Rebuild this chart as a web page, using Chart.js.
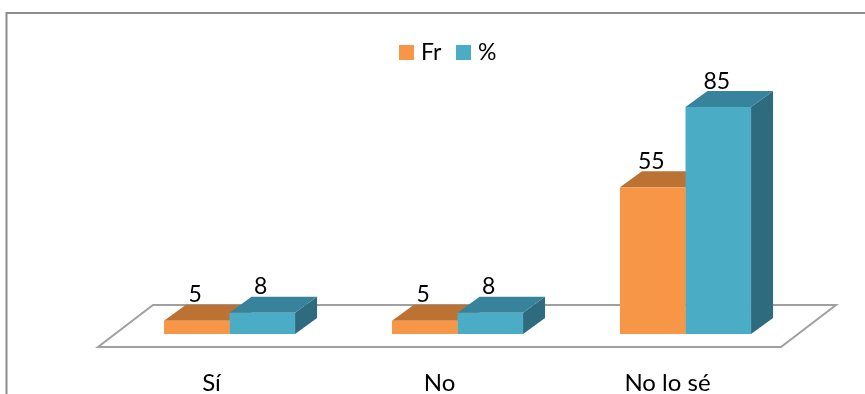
<!DOCTYPE html>
<html>
<head>
<meta charset="utf-8">
<title>Fr y %</title>
<script src="https://cdn.jsdelivr.net/npm/chart.js@4/dist/chart.umd.min.js"></script>
<style>
    html, body { margin: 0; padding: 0; background: #fff; overflow: hidden; }
    #wrap { position: relative; width: 865px; height: 394px; }
</style>
</head>
<body>
<div id="wrap"><canvas id="chart"></canvas></div>
<script>
const categories = ['Sí', 'No', 'No lo sé'];
const frValues = [5, 5, 55];
const pctValues = [8, 8, 85];

const FONT = 'Lato, sans-serif';
const DEPTH_X = 22;
const DEPTH_Y = 16;

// Grey frame round the chart, open at the bottom like the original
const framePlugin = {
    id: 'frame',
    beforeDraw(chart) {
        const ctx = chart.ctx;
        ctx.save();
        ctx.strokeStyle = '#8c8c8c';
        ctx.lineWidth = 2;
        ctx.beginPath();
        ctx.moveTo(6.5, 394);
        ctx.lineTo(6.5, 13);
        ctx.lineTo(chart.width, 13);
        ctx.stroke();
        ctx.restore();
    }
};

// Floor under the bars
const floorPlugin = {
    id: 'floor',
    beforeDatasetsDraw(chart) {
        const ctx = chart.ctx;
        const area = chart.chartArea;
        const base = chart.scales.y.getPixelForValue(0);
        ctx.save();
        ctx.strokeStyle = '#a0a0a0';
        ctx.lineWidth = 2;
        ctx.beginPath();
        ctx.moveTo(area.left - 17.5, base + 13);
        ctx.lineTo(area.right - 18.5, base + 13);
        ctx.lineTo(area.right + 36.5, base - 29);
        ctx.lineTo(area.left + 37.5, base - 29);
        ctx.closePath();
        ctx.stroke();
        ctx.restore();
    }
};

// Top and side faces, so the flat bars look like the 3D ones
const depthPlugin = {
    id: 'depth',
    beforeDatasetsDraw(chart) {
        const ctx = chart.ctx;
        const tops = ['#bb7233', '#36839b'];
        const sides = ['#bb7233', '#2f6b7e'];
        for (let i = 0; i < categories.length; i++) {
            chart.data.datasets.forEach((ds, d) => {
                const bar = chart.getDatasetMeta(d).data[i];
                const half = bar.width / 2;
                const left = bar.x - half;
                const right = bar.x + half;
                ctx.fillStyle = sides[d];
                ctx.beginPath();
                ctx.moveTo(right, bar.y);
                ctx.lineTo(right + DEPTH_X, bar.y - DEPTH_Y);
                ctx.lineTo(right + DEPTH_X, bar.base - DEPTH_Y);
                ctx.lineTo(right, bar.base);
                ctx.closePath();
                ctx.fill();
                ctx.fillStyle = tops[d];
                ctx.beginPath();
                ctx.moveTo(left, bar.y);
                ctx.lineTo(left + DEPTH_X, bar.y - DEPTH_Y);
                ctx.lineTo(right + DEPTH_X, bar.y - DEPTH_Y);
                ctx.lineTo(right, bar.y);
                ctx.closePath();
                ctx.fill();
            });
        }
    }
};

// Value labels over each bar
const valueLabelPlugin = {
    id: 'valueLabels',
    afterDatasetsDraw(chart) {
        const ctx = chart.ctx;
        ctx.save();
        ctx.font = '23px ' + FONT;
        ctx.fillStyle = '#000';
        ctx.textAlign = 'center';
        ctx.textBaseline = 'alphabetic';
        chart.data.datasets.forEach((ds, d) => {
            chart.getDatasetMeta(d).data.forEach((bar, i) => {
                ctx.fillText(ds.data[i], bar.x - 1.5, bar.y - 18.5);
            });
        });
        ctx.restore();
    }
};

// Legend drawn by hand, the built-in one leaves too wide a gap after the box
const legendPlugin = {
    id: 'topLegend',
    afterDraw(chart) {
        const ctx = chart.ctx;
        const starts = [399, 456];
        ctx.save();
        ctx.font = '23px ' + FONT;
        ctx.textBaseline = 'alphabetic';
        chart.data.datasets.forEach((ds, d) => {
            ctx.fillStyle = ds.backgroundColor;
            ctx.fillRect(starts[d], 45, 15, 15);
            ctx.fillStyle = '#000';
            ctx.fillText(ds.label, starts[d] + 22, 60);
        });
        ctx.restore();
    }
};

new Chart(document.getElementById('chart'), {
    type: 'bar',
    data: {
        labels: categories,
        datasets: [
            { label: 'Fr', data: frValues, backgroundColor: '#f79646' },
            { label: '%', data: pctValues, backgroundColor: '#4bacc6' }
        ]
    },
    options: {
        responsive: true,
        maintainAspectRatio: false,
        animation: false,
        layout: { padding: { left: 115.5, right: 65.5, top: 67, bottom: 0 } },
        datasets: { bar: { categoryPercentage: 0.575, barPercentage: 1 } },
        scales: {
            x: {
                grid: { display: false },
                border: { display: false },
                afterFit(scale) {
                    scale.height = 60;
                },
                ticks: {
                    color: '#000',
                    font: { family: FONT, size: 24 },
                    labelOffset: -18,
                    padding: 27,
                    maxRotation: 0
                }
            },
            y: {
                display: false,
                min: 0,
                max: 100
            }
        },
        plugins: {
            legend: { display: false },
            tooltip: { enabled: false }
        }
    },
    plugins: [framePlugin, floorPlugin, depthPlugin, valueLabelPlugin, legendPlugin]
});
</script>
</body>
</html>
